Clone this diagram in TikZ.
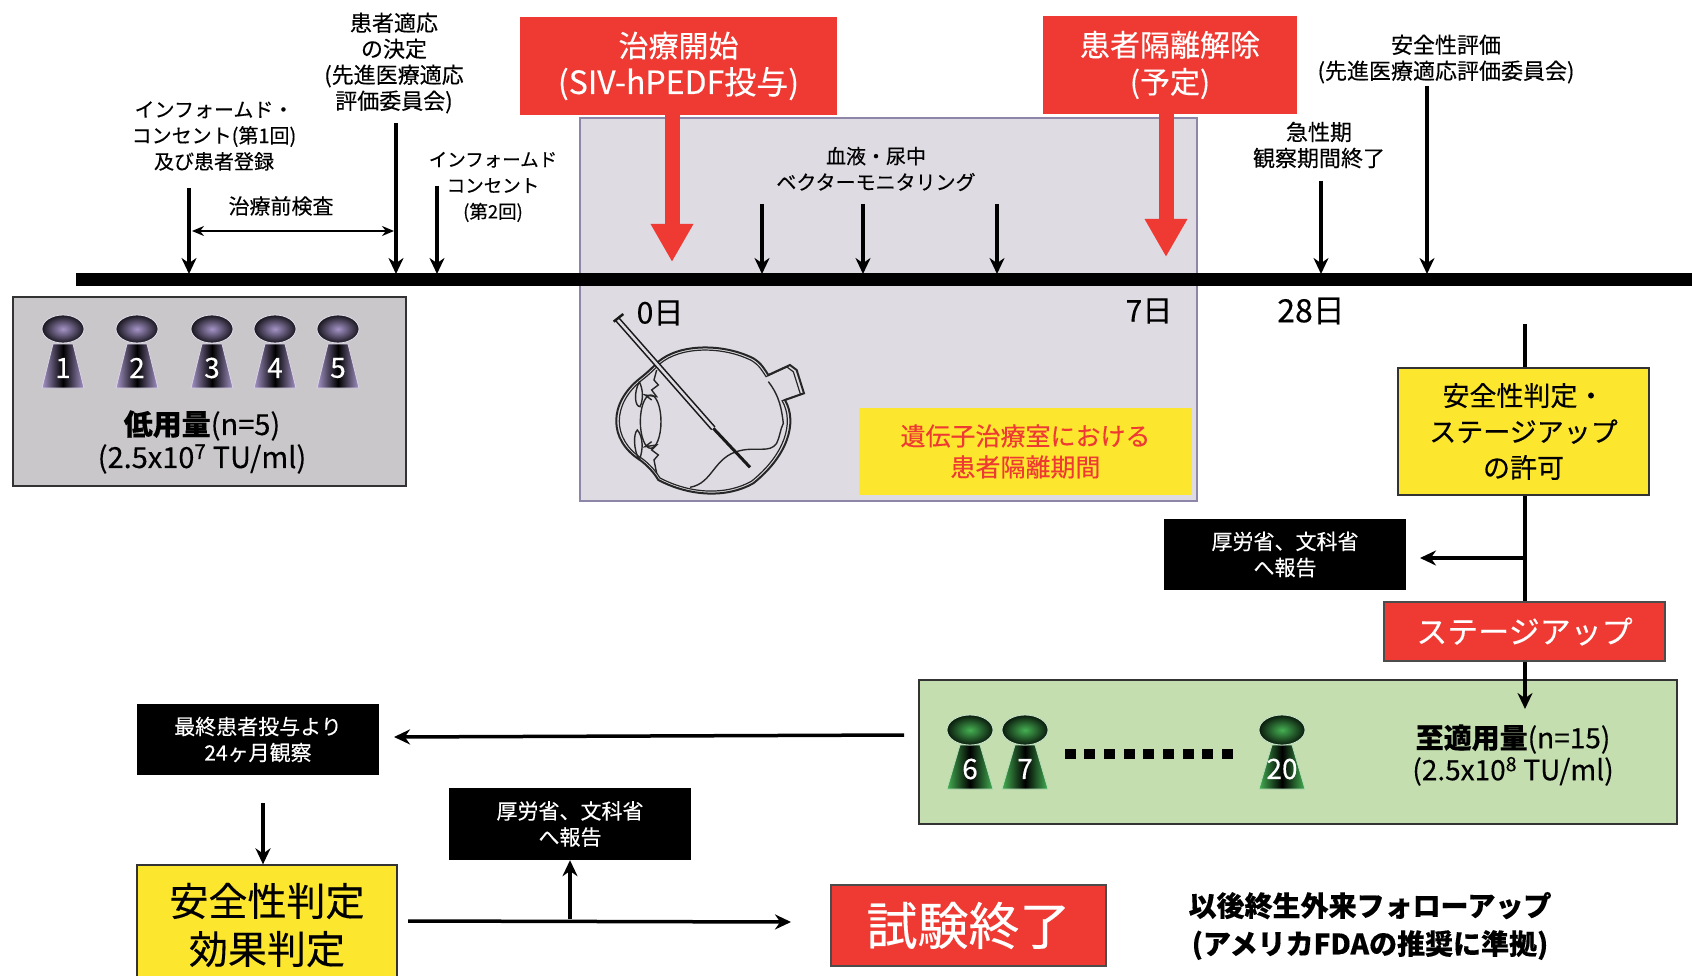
\documentclass[tikz,border=0pt]{standalone}
\usepackage{fontspec}
\setmainfont{Noto Sans CJK JP}[FakeBold=0.3]
\usetikzlibrary{arrows.meta}

\definecolor{lowgray}{HTML}{C9C7CA}
\definecolor{wardlav}{HTML}{DFDBE3}
\definecolor{wardedge}{HTML}{8D86A8}
\definecolor{dosegreen}{HTML}{C4DEB0}
\definecolor{signred}{HTML}{EE3A33}
\definecolor{signyellow}{HTML}{FCE62E}
\definecolor{lowpurple}{HTML}{A594C8}
\definecolor{highgreen}{HTML}{45B052}

\tikzset{
    lbl/.style={align=center, inner sep=0pt, font=\fontsize{20}{26}\selectfont},
    panel/.style={line width=1.5pt, inner sep=0pt},
    redbox/.style={fill=signred, text=white, align=center, inner sep=0pt},
    blackbox/.style={fill=black, text=white, align=center, inner sep=0pt, font=\fontsize{21}{26}\selectfont},
    yellowbox/.style={fill=signyellow, draw=black!80, line width=1.3pt, align=center, inner sep=0pt},
    tickarrow/.style={line width=3.5pt, -{Stealth[length=16pt,width=15pt]}},
    bigarrow/.style={signred, line width=15pt, -{Triangle[length=38pt,width=40pt]}},
    stemline/.style={line width=3.5pt},
    eyeline/.style={line width=1.4pt, black!85}
}

% one dose marker: x, y of the head, number, colour, head width, head height
\newcommand{\drawpawn}[6]{
    \shade[left color=#4, right color=#4, middle color=black, draw=white!60!#4, line width=0.8pt]
        (#1-10,#2+15) -- (#1+10,#2+15) -- (#1+#5,#2+59) -- (#1-#5,#2+59) -- cycle;
    \shade[inner color=#4, outer color=black!85!#4, draw=white!70!#4, line width=0.8pt]
        (#1,#2) ellipse (#5pt and #6pt);
    \node[text=white, inner sep=0pt, font=\fontsize{28}{28}\selectfont] (pawn#3) at (#1,#2+39) {#3};
}

\begin{document}
\begin{tikzpicture}[x=1pt, y=-1pt]
    \clip (0,0) rectangle (1692,976);

    % Panels behind the time line
    \node[panel, draw=wardedge, fill=wardlav, minimum width=617pt, minimum height=383pt] (ward) at (888.5,309.5) {};
    \node[panel, draw=black!80, fill=lowgray, minimum width=393pt, minimum height=189pt] (lowpanel) at (209.5,391.5) {};
    \node[panel, draw=black!80, fill=dosegreen, minimum width=758pt, minimum height=144pt] (highpanel) at (1298,752) {};

    % Time line
    \coordinate (tlstart) at (76,280);
    \coordinate (tlend) at (1692,280);
    \draw[line width=13pt] (tlstart) -- (tlend);

    % Top boxes
    \node[redbox, minimum width=317pt, minimum height=98pt, font=\fontsize{30}{37}\selectfont] (start) at (678.5,66) {治療開始\\{\fontsize{32}{37}\selectfont (SIV-hPEDF投与)}};
    \node[redbox, minimum width=254pt, minimum height=98pt, font=\fontsize{30}{37}\selectfont] (release) at (1170,65) {患者隔離解除\\(予定)};

    % Labels above the time line
    \node[lbl] (consent1) at (214,136) {インフォームド・\\コンセント(第1回)\\及び患者登録};
    \node[lbl, font=\fontsize{22}{26}\selectfont] (decision) at (394,63) {患者適応\\の決定\\(先進医療適応\\評価委員会)};
    \node[lbl, font=\fontsize{18.5}{26}\selectfont] (consent2) at (493,187) {インフォームド\\コンセント\\(第2回)};
    \node[lbl, font=\fontsize{21}{26}\selectfont] (pretest) at (281,206) {治療前検査};
    \node[lbl] (monitor) at (876,169) {血液・尿中\\ベクターモニタリング};
    \node[lbl, font=\fontsize{22}{26}\selectfont] (acute) at (1319,145) {急性期\\観察期間終了};
    \node[lbl, font=\fontsize{22}{26}\selectfont] (safety) at (1446,59) {安全性評価\\(先進医療適応評価委員会)};

    % Day labels
    \node[lbl, font=\fontsize{30}{30}\selectfont] (day0) at (660,313) {0日};
    \node[lbl, font=\fontsize{30}{30}\selectfont] (day7) at (1149,311) {7日};
    \node[lbl, font=\fontsize{32}{32}\selectfont] (day28) at (1311,311) {28日};

    % Arrows onto the time line
    \foreach \name/\x/\y in {a/189/188, b/396/123, c/437/186, d/762/204, e/863/204, f/997/204, g/1321/181, h/1427/86} {
        \coordinate (mark\name) at (\x,\y);
        \draw[tickarrow, shorten >=6pt] (mark\name) -- (mark\name |- tlstart);
    }
    \coordinate (pretestL) at (192,231);
    \coordinate (pretestR) at (394,231);
    \draw[line width=1.8pt, {Stealth[length=12pt,width=10pt]}-{Stealth[length=12pt,width=10pt]}] (pretestL) -- (pretestR);

    % Red arrows
    \coordinate (startend) at (672,262);
    \coordinate (releaseend) at (1166,257);
    \draw[bigarrow] (startend |- start.south) -- (startend);
    \draw[bigarrow] (releaseend |- release.south) -- (releaseend);

    % Low dose markers
    \foreach \x/\n in {63/1, 137/2, 212/3, 275/4, 338/5} {
        \drawpawn{\x}{329}{\n}{lowpurple}{21}{14}
    }
    \node[lbl, font=\fontsize{29}{33}\selectfont] (lowdose) at (202,442) {\textbf{低用量}(n=5)\\(2.5x10\textsuperscript{7} TU/ml)};

    % Eye with needle
    \begin{scope}[shift={(580,290)}, x=0.3333pt, y=-0.3333pt]
        \foreach \s/\lw in {1/2pt, 0.965/1.2pt} {
            \draw[black!85, line width=\lw, shift={(370,395)}, scale=\s]
                (-135,-180) .. controls (-70,-235) and (60,-235) .. (150,-190)
                .. controls (175,-175) and (185,-155) .. (195,-140)
                -- (260,-170) -- (280,-155) -- (302,-85) -- (245,-65)
                .. controls (285,5) and (250,105) .. (150,185)
                .. controls (70,230) and (-40,225) .. (-135,175)
                .. controls (-150,150) and (-170,130) .. (-190,115)
                .. controls (-285,55) and (-285,-55) .. (-190,-130)
                .. controls (-170,-145) and (-150,-165) .. (-135,-180);
        }
        % lens and iris
        \draw[eyeline] (212,395) ellipse (31 and 80);
        \draw[eyeline] (178,275) .. controls (160,310) and (165,350) .. (180,350) .. controls (190,330) and (190,300) .. (178,275);
        \draw[eyeline] (178,510) .. controls (160,480) and (160,430) .. (172,420) .. controls (190,440) and (190,480) .. (178,510);
        \draw[eyeline] (230,240) -- (222,270) -- (235,285) -- (215,300) -- (230,320) -- (195,315) -- (215,330);
        \draw[eyeline] (230,550) -- (222,510) -- (235,495) -- (215,480) -- (230,465) -- (195,470) -- (215,455);
        % detached retina
        \draw[eyeline] (330,592) .. controls (400,580) and (400,500) .. (480,482) .. controls (530,470) and (570,490) .. (590,460) .. controls (600,440) and (600,420) .. (610,400) .. controls (605,360) and (600,320) .. (565,275);
        % needle
        \coordinate (needletop) at (112,88);
        \coordinate (needlemid) at (400,415);
        \coordinate (needletip) at (510,532);
        \draw[line width=1.6pt, double=wardlav, double distance=2.5pt, black!90] (needletop) -- (needlemid);
        \draw[line width=3pt, black!90] (needlemid) -- (needletip);
        \coordinate (hubL) at (101,95);
        \coordinate (hubR) at (130,72);
        \draw[line width=2.5pt, black!90] (hubL) -- (hubR);
    \end{scope}

    % Isolation note
    \node[fill=signyellow, minimum width=333pt, minimum height=87pt, text=signred, align=center, inner sep=0pt, font=\fontsize{25}{31}\selectfont] (isolation) at (1025.5,451.5) {遺伝子治療室における\\患者隔離期間};

    % Right branch down to stage up
    \coordinate (stemtop) at (1525,324);
    \node[yellowbox, minimum width=251pt, minimum height=127pt, font=\fontsize{27}{36}\selectfont] (permit) at (1523.5,431.5) {安全性判定・\\ステージアップ\\の許可};
    \node[blackbox, minimum width=242pt, minimum height=71pt] (report1) at (1285,554.5) {厚労省、文科省\\へ報告};
    \node[redbox, draw=black!70, line width=1.2pt, minimum width=281pt, minimum height=59pt, font=\fontsize{31}{31}\selectfont] (stageup) at (1524.5,631.5) {ステージアップ};
    \coordinate (branch) at (1525,558);
    \coordinate (branchend) at (1420,558);
    \draw[stemline] (stemtop) -- (stemtop |- permit.north);
    \draw[stemline] (stemtop |- permit.south) -- (stemtop |- stageup.north);
    \draw[tickarrow] (branch) -- (branchend);
    \coordinate (highend) at (1525,709);
    \draw[tickarrow] (highend |- stageup.south) -- (highend);

    % High dose markers
    \foreach \x/\n in {970/6, 1025/7, 1282/20} {
        \drawpawn{\x}{730}{\n}{highgreen}{23}{15}
    }
    \foreach \i in {0,...,8} {
        \fill (1070+19.7*\i-5.5,749) rectangle (1070+19.7*\i+5.5,759);
    }
    \node[lbl, font=\fontsize{28}{32}\selectfont] (highdose) at (1513,755) {\textbf{至適用量}(n=15)\\(2.5x10\textsuperscript{8} TU/ml)};

    % Bottom row
    \node[blackbox, minimum width=242pt, minimum height=71pt] (observe) at (258,739.5) {最終患者投与より\\24ヶ月観察};
    \node[yellowbox, minimum width=260pt, minimum height=120pt, font=\fontsize{39}{48}\selectfont] (verdict) at (267,925) {安全性判定\\効果判定};
    \node[blackbox, minimum width=242pt, minimum height=72pt] (report2) at (570,824) {厚労省、文科省\\へ報告};
    \node[redbox, draw=black!70, line width=1.2pt, minimum width=275pt, minimum height=81pt, font=\fontsize{51}{51}\selectfont] (finish) at (968.5,925.5) {試験終了};
    \node[lbl, font=\bfseries\fontsize{28}{38}\selectfont] (followup) at (1370,926) {以後終生外来フォローアップ\\(アメリカFDAの推奨に準拠)};

    % Bottom connectors
    \coordinate (fromhigh) at (904,735);
    \coordinate (tomonth) at (394,737);
    \draw[tickarrow] (fromhigh) -- (tomonth);
    \coordinate (downstart) at (263,803);
    \draw[tickarrow] (downstart) -- (downstart |- verdict.north);
    \coordinate (verdictout) at (408,921);
    \coordinate (verdictend) at (791,922);
    \draw[tickarrow] (verdictout) -- (verdictend);
    \coordinate (upstart) at (570,919);
    \draw[tickarrow] (upstart) -- (upstart |- report2.south);
\end{tikzpicture}
\end{document}
